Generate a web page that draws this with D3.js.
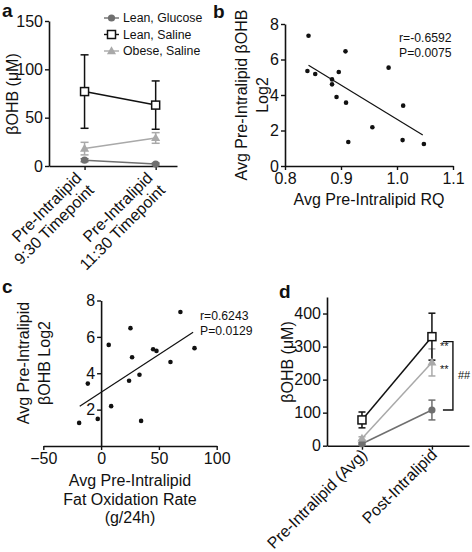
<!DOCTYPE html>
<html><head><meta charset="utf-8">
<script src="https://cdn.jsdelivr.net/npm/d3@7"></script>
<style>
body{margin:0;background:#fff}
svg{display:block}
text{font-family:"Liberation Sans",Arial,sans-serif;fill:#111}
</style>
</head><body>
<svg id="chart" width="472" height="552"></svg>
<script>
// ---------- Panel a data ----------
const aCategories = [["Pre-Intralipid","9:30 Timepoint"],["Pre-Intralipid","11:30 Timepoint"]];
const aTicks = [0, 50, 100, 150];
const seriesNames = ["Lean, Glucose", "Lean, Saline", "Obese, Saline"];
const aLeanGlucose = [6, 2];
const aLeanGlucoseErr = [1.5, 1];
const aLeanSaline = [77, 63];
const aLeanSalineErr = [38, 25];
const aObeseSaline = [18, 29];
const aObeseSalineErr = [6.5, 5.5];

// ---------- Panel b data ----------
const bRQ  = [0.842, 0.908, 0.985, 0.840, 0.896, 0.854, 0.884, 0.884, 0.892, 0.909, 1.011, 0.956, 1.010, 0.913, 1.048];
const bOHB = [7.34, 6.46, 5.54, 5.35, 5.30, 5.18, 4.88, 4.60, 3.89, 3.57, 3.40, 2.18, 1.46, 1.35, 1.24];
const bFitX = [0.842, 1.046];
const bFitY = [5.67, 1.75];
const bXTicks = [0.8, 0.9, 1.0, 1.1];
const bYTicks = [0, 2, 4, 6, 8];
const bStats = ["r=-0.6592", "P=0.0075"];

// ---------- Panel c data ----------
const cFatOx = [68.6, 25.4, 6.6, 80.8, 45, 47.9, 26.8, 60, 33.2, 24.2, -11.5, 8.7, -2.9, 34.6, -19];
const cOHB   = [7.37, 6.48, 5.56, 5.38, 5.32, 5.23, 4.88, 4.62, 3.92, 3.59, 3.43, 2.19, 1.49, 1.38, 1.27];
const cFitX = [-18.5, 79.6];
const cFitY = [2.19, 6.25];
const cXTicks = [-50, 0, 50, 100];
const cYTicks = [2, 4, 6, 8];
const cStats = ["r=0.6243", "P=0.0129"];

// ---------- Panel d data ----------
const dCategories = ["Pre-Intralipid (Avg)", "Post-Intralipid"];
const dTicks = [0, 100, 200, 300, 400];
const dLeanGlucose = [6, 108];
const dLeanGlucoseErr = [3, 30];
const dLeanSaline = [78, 330];
const dLeanSalineErr = [24, 71];
const dObeseSaline = [22, 252];
const dObeseSalineErr = [5, 41];

const colors = {"Lean, Glucose": "#6f6f6f", "Lean, Saline": "#111111", "Obese, Saline": "#a9a9a9"};
const svg = d3.select("#chart");
const FS = 16;

function styleAxis(g) {
  g.selectAll("path.domain").attr("stroke", "#111").attr("stroke-width", 1.6);
  g.selectAll(".tick line").attr("stroke", "#111").attr("stroke-width", 1.4);
  g.selectAll(".tick text").attr("font-size", FS).attr("fill", "#111")
    .style("font-family", '"Liberation Sans",Arial,sans-serif');
}

function panelLabel(t, x, y) {
  svg.append("text").attr("x", x).attr("y", y).attr("font-size", 19)
    .attr("font-weight", "bold").text(t);
}

function rotTitle(lines, x, y, lh) {
  const t = svg.append("text").attr("transform", `translate(${x},${y}) rotate(-90)`)
    .attr("text-anchor", "middle").attr("font-size", FS);
  lines.forEach((l, i) => t.append("tspan").attr("x", 0).attr("dy", i === 0 ? 0 : lh).text(l));
}

function drawMarker(g, kind, x, y, color) {
  if (kind === "Lean, Glucose") {
    g.append("circle").attr("cx", x).attr("cy", y).attr("r", 3.6).attr("fill", color);
  } else if (kind === "Lean, Saline") {
    g.append("rect").attr("x", x - 4).attr("y", y - 4).attr("width", 8).attr("height", 8)
      .attr("fill", "#fff").attr("stroke", color).attr("stroke-width", 1.5);
  } else {
    g.append("path").attr("d", d3.symbol(d3.symbolTriangle, 36)())
      .attr("transform", `translate(${x},${y + 0.5})`).attr("fill", color);
  }
}

function groupPlot(x, y, series, capW) {
  const g = svg.append("g");
  series.forEach(s => {
    const c = colors[s.name];
    const line = d3.line().x((d, i) => x(i)).y(d => y(d));
    g.append("path").attr("d", line(s.values)).attr("fill", "none")
      .attr("stroke", c).attr("stroke-width", 1.5);
  });
  series.forEach(s => {
    const c = colors[s.name];
    s.values.forEach((v, i) => {
      const e = s.err[i];
      g.append("line").attr("x1", x(i)).attr("x2", x(i)).attr("y1", y(v - e)).attr("y2", y(v + e))
        .attr("stroke", c).attr("stroke-width", 1.5);
      [v - e, v + e].forEach(w => g.append("line").attr("x1", x(i) - capW / 2).attr("x2", x(i) + capW / 2)
        .attr("y1", y(w)).attr("y2", y(w)).attr("stroke", c).attr("stroke-width", 1.5));
    });
  });
  series.forEach(s => {
    s.values.forEach((v, i) => drawMarker(g, s.name, x(i), y(v), colors[s.name]));
  });
}

function rotLabel(str, px, py) {
  svg.append("text").attr("x", 0).attr("y", 0)
    .attr("transform", `translate(${px},${py}) rotate(-45)`)
    .attr("text-anchor", "end").attr("font-size", FS).text(str);
}

// ================= Panel a =================
{
  const x = d3.scaleLinear().domain([-0.5, 1.3]).range([49, 177]);
  const y = d3.scaleLinear().domain([0, 150]).range([166, 21]);
  svg.append("g").attr("transform", `translate(${x(-0.5)},0)`)
    .call(d3.axisLeft(y).tickValues(aTicks).tickSize(4).tickPadding(2).tickSizeOuter(0)).call(styleAxis);
  svg.append("g").attr("transform", `translate(0,${y(0)})`)
    .call(d3.axisBottom(x).tickValues([0, 1]).tickSize(4).tickFormat("").tickSizeOuter(0)).call(styleAxis);
  const lh = 17.5 * Math.SQRT1_2;
  aCategories.forEach((lines, i) => {
    const px = x(i) - 2, py = y(0) + 13;
    lines.forEach((l, j) => rotLabel(l, px + j * lh, py + j * lh));
  });
  groupPlot(x, y, [
    {name: seriesNames[0], values: aLeanGlucose, err: aLeanGlucoseErr},
    {name: seriesNames[2], values: aObeseSaline, err: aObeseSalineErr},
    {name: seriesNames[1], values: aLeanSaline, err: aLeanSalineErr}
  ], 8);
  rotTitle(["βOHB (μM)"], 18, 94, 0);
  // legend
  seriesNames.forEach((n, i) => {
    const ly = 18 + i * 16.5;
    const g = svg.append("g");
    g.append("line").attr("x1", 104).attr("x2", 119).attr("y1", ly).attr("y2", ly)
      .attr("stroke", colors[n]).attr("stroke-width", 1.4);
    drawMarker(g, n, 111.5, ly, colors[n]);
    g.append("text").attr("x", 123).attr("y", ly + 4.3).attr("font-size", 12.3).text(n);
  });
  panelLabel("a", 2, 17);
}

// ================= Panel b =================
{
  const x = d3.scaleLinear().domain([0.8, 1.1]).range([285, 453]);
  const y = d3.scaleLinear().domain([0, 8]).range([166, 24]);
  svg.append("g").attr("transform", `translate(${x(0.8)},0)`)
    .call(d3.axisLeft(y).tickValues(bYTicks).tickSize(4).tickPadding(2).tickSizeOuter(0)).call(styleAxis);
  svg.append("g").attr("transform", `translate(0,${y(0)})`)
    .call(d3.axisBottom(x).tickValues(bXTicks).tickFormat(d3.format(".1f")).tickSize(4).tickPadding(3).tickSizeOuter(0)).call(styleAxis);
  svg.append("path").attr("d", d3.line()(bFitX.map((v, i) => [x(v), y(bFitY[i])])))
    .attr("stroke", "#111").attr("stroke-width", 1.2).attr("fill", "none");
  svg.append("g").selectAll("circle").data(bRQ).join("circle")
    .attr("cx", d => x(d)).attr("cy", (d, i) => y(bOHB[i])).attr("r", 2.3).attr("fill", "#111");
  bStats.forEach((s, i) => svg.append("text").attr("x", 399).attr("y", 42 + i * 14.5).attr("font-size", 12.2).text(s));
  rotTitle(["Avg Pre-Intralipid βOHB", "Log2"], 247, 95, 21);
  svg.append("text").attr("x", 369).attr("y", 205).attr("text-anchor", "middle").attr("font-size", FS)
    .text("Avg Pre-Intralipid RQ");
  panelLabel("b", 213, 18);
}

// ================= Panel c =================
{
  const x = d3.scaleLinear().domain([-50, 100]).range([43.3, 216.7]);
  const y = d3.scaleLinear().domain([0, 8]).range([446, 300.5]);
  svg.append("g").attr("transform", `translate(${x(0)},0)`)
    .call(d3.axisLeft(y).tickValues(cYTicks).tickSize(4).tickPadding(2).tickSizeOuter(0)).call(styleAxis);
  svg.append("g").attr("transform", `translate(0,${y(0)})`)
    .call(d3.axisBottom(x).tickValues(cXTicks).tickSize(4).tickPadding(3).tickSizeOuter(0)).call(styleAxis);
  svg.append("path").attr("d", d3.line()(cFitX.map((v, i) => [x(v), y(cFitY[i])])))
    .attr("stroke", "#111").attr("stroke-width", 1.2).attr("fill", "none");
  svg.append("g").selectAll("circle").data(cFatOx).join("circle")
    .attr("cx", d => x(d)).attr("cy", (d, i) => y(cOHB[i])).attr("r", 2.3).attr("fill", "#111");
  cStats.forEach((s, i) => svg.append("text").attr("x", 200).attr("y", 320 + i * 14.5).attr("font-size", 12.2).text(s));
  rotTitle(["Avg Pre-Intralipid", "βOHB Log2"], 29, 363, 21);
  const t = svg.append("text").attr("text-anchor", "middle").attr("font-size", FS);
  ["Avg Pre-Intralipid", "Fat Oxidation Rate", "(g/24h)"].forEach((l, i) =>
    t.append("tspan").attr("x", 130).attr("y", 486 + i * 18.5).text(l));
  panelLabel("c", 2, 293);
}

// ================= Panel d =================
{
  const x = d3.scaleLinear().domain([-0.5, 1.53]).range([327, 469]);
  const y = d3.scaleLinear().domain([0, 450]).range([445.7, 297]);
  svg.append("g").attr("transform", `translate(${x(-0.5)},0)`)
    .call(d3.axisLeft(y).tickValues(dTicks).tickSize(4).tickPadding(2).tickSizeOuter(0)).call(styleAxis);
  svg.append("g").attr("transform", `translate(0,${y(0)})`)
    .call(d3.axisBottom(x).tickValues([0, 1]).tickSize(4).tickFormat("").tickSizeOuter(0)).call(styleAxis);
  dCategories.forEach((l, i) => rotLabel(l, x(i) + 6, y(0) + 10));
  groupPlot(x, y, [
    {name: seriesNames[0], values: dLeanGlucose, err: dLeanGlucoseErr},
    {name: seriesNames[2], values: dObeseSaline, err: dObeseSalineErr},
    {name: seriesNames[1], values: dLeanSaline, err: dLeanSalineErr}
  ], 7);
  rotTitle(["βOHB (μM)"], 293, 362, 0);
  // significance annotations
  const ann = svg.append("g").attr("font-size", 11);
  ann.append("text").attr("x", x(1) + 8).attr("y", y(dLeanSaline[1]) + 13).attr("fill", "#333").text("**");
  ann.append("text").attr("x", x(1) + 8).attr("y", y(dObeseSaline[1]) + 11).attr("fill", "#333").text("**");
  const bx0 = x(1) + 11, bx1 = x(1) + 21;
  const by0 = y(dLeanSaline[1]) + 5, by1 = y(dLeanGlucose[1]);
  svg.append("path").attr("d", `M${bx0},${by0}H${bx1}V${by1}H${bx0}`)
    .attr("fill", "none").attr("stroke", "#111").attr("stroke-width", 1.4);
  ann.append("text").attr("x", bx1 + 5).attr("y", (by0 + by1) / 2 + 3).attr("fill", "#333").text("##");
  panelLabel("d", 279, 298);
}
</script>
</body></html>
